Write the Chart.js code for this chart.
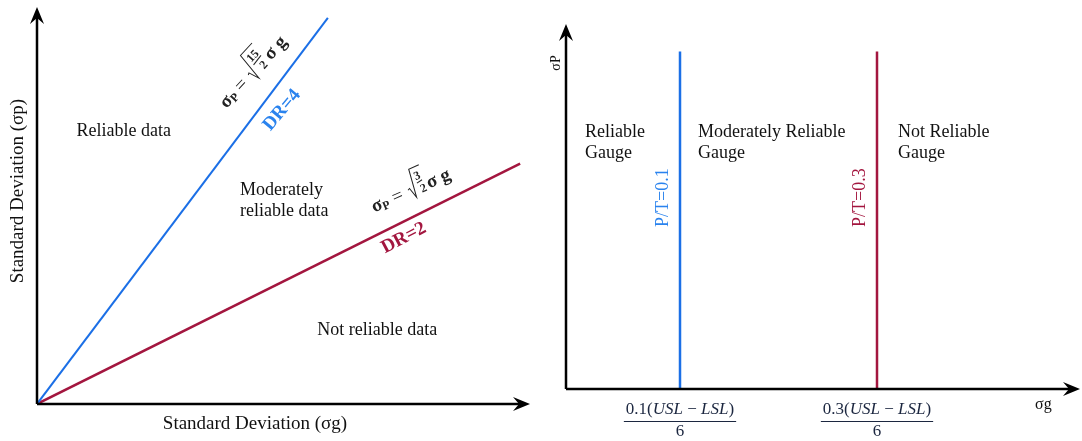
<!DOCTYPE html>
<html>
<head>
<meta charset="utf-8">
<script src="https://cdn.jsdelivr.net/npm/chart.js@4.4.0/dist/chart.umd.min.js"></script>
<style>
  body { margin: 0; background: #fff; }
  #wrap { position: relative; width: 1082px; height: 441px; }
  #left { position: absolute; left: 0; top: 0; }
  #right { position: absolute; left: 541px; top: 0; }
</style>
</head>
<body>
<div id="wrap">
  <canvas id="left" width="541" height="441"></canvas>
  <canvas id="right" width="541" height="441"></canvas>
</div>
<script>
// left panel: the two DR lines (axes 0..100 in both directions)
const dr4X = [0, 59];
const dr4Y = [0, 98];
const dr2X = [0, 98];
const dr2Y = [0, 61];
const leftRegions = ["Reliable data", "Moderately", "reliable data", "Not reliable data"];
const leftRegionX = [17.6, 41.2, 41.2, 69.0];
const leftRegionY = [69.3, 54.3, 48.9, 18.8];
const leftRegionAlign = ["center", "left", "left", "center"];

// right panel: P/T limits
const ptX = [22.8, 62.2];
const ptTop = 94;
const ptLabels = ["P/T=0.1", "P/T=0.3"];
const ptTickNum = ["0.1", "0.3"];
const ptTickDen = ["6", "6"];
const gaugeLines1 = ["Reliable", "Moderately Reliable", "Not Reliable"];
const gaugeLines2 = ["Gauge", "Gauge", "Gauge"];
const gaugeX = [3.8, 26.4, 66.4];
const gaugeY1 = 71.6;
const gaugeY2 = 65.7;

const BLUE = "#1b6fe6";
const BLUE_TXT = "#2a83ee";
const RED = "#a3163f";
const SERIF = '"Liberation Serif", "DejaVu Serif", serif';

function pts(xs, ys) {
    return xs.map((x, i) => ({x: x, y: ys[i]}));
}

function arrow(ctx, x1, y1, x2, y2) {
    ctx.save();
    ctx.strokeStyle = "#000";
    ctx.fillStyle = "#000";
    ctx.lineWidth = 2.5;
    const a = Math.atan2(y2 - y1, x2 - x1);
    const hl = 17, hw = 7;
    ctx.beginPath();
    ctx.moveTo(x1, y1);
    ctx.lineTo(x2 - Math.cos(a) * 6, y2 - Math.sin(a) * 6);
    ctx.stroke();
    ctx.beginPath();
    ctx.moveTo(x2, y2);
    ctx.lineTo(x2 - hl * Math.cos(a) - hw * Math.sin(a), y2 - hl * Math.sin(a) + hw * Math.cos(a));
    ctx.lineTo(x2 - 11 * Math.cos(a), y2 - 11 * Math.sin(a));
    ctx.lineTo(x2 - hl * Math.cos(a) + hw * Math.sin(a), y2 - hl * Math.sin(a) - hw * Math.cos(a));
    ctx.closePath();
    ctx.fill();
    ctx.restore();
}

// sigma_p = sqrt(num/den) sigma_g, drawn centred on (cx, cy) and rotated
function formula(ctx, cx, cy, ang, num, den) {
    const big = "bold 19px " + SERIF;
    const sub = "bold 12px " + SERIF;
    const reg = "19px " + SERIF;
    const fr = "bold 12px " + SERIF;
    ctx.save();
    ctx.translate(cx, cy);
    ctx.rotate(ang);
    ctx.fillStyle = "#222";
    ctx.strokeStyle = "#222";
    ctx.textBaseline = "alphabetic";
    ctx.textAlign = "left";
    ctx.font = big; const wS = ctx.measureText("\u03c3").width;
    ctx.font = sub; const wP = ctx.measureText("P").width;
    ctx.font = reg; const wE = ctx.measureText(" = ").width + 2;
    ctx.font = fr; const wF = Math.max(ctx.measureText(num).width, ctx.measureText(den).width) + 2;
    ctx.font = big; const wG = ctx.measureText("\u03c3 g").width;
    const total = wS + wP + wE + 10 + wF + 2 + wG;
    let x = -total / 2;
    const by = 7;
    ctx.font = big; ctx.fillText("\u03c3", x, by); x += wS;
    ctx.font = sub; ctx.fillText("P", x, by + 2); x += wP;
    ctx.font = reg; ctx.fillText(" = ", x, by); x += wE;
    ctx.lineWidth = 1;
    ctx.beginPath();
    ctx.moveTo(x, by - 7);
    ctx.lineTo(x + 2, by - 8);
    ctx.lineTo(x + 5, by + 3);
    ctx.lineTo(x + 9, by - 26);
    ctx.lineTo(x + 10 + wF + 2, by - 26);
    ctx.stroke();
    x += 10;
    ctx.font = fr;
    ctx.textAlign = "center";
    ctx.fillText(num, x + wF / 2, by - 13);
    ctx.fillText(den, x + wF / 2 + 1, by + 1);
    ctx.beginPath();
    ctx.moveTo(x + 1, by - 10);
    ctx.lineTo(x + wF - 1, by - 11);
    ctx.stroke();
    x += wF + 2;
    ctx.textAlign = "left";
    ctx.font = big; ctx.fillText("\u03c3 g", x, by);
    ctx.restore();
}

function rotText(ctx, txt, x, y, ang, font, color) {
    ctx.save();
    ctx.translate(x, y);
    ctx.rotate(ang);
    ctx.font = font;
    ctx.fillStyle = color;
    ctx.textAlign = "center";
    ctx.textBaseline = "middle";
    ctx.fillText(txt, 0, 0);
    ctx.restore();
}

// "0.1(USL − LSL)" over "6", upright number, italic letters
function tickFraction(ctx, px, top, num, den) {
    const parts = [[num + "(", false], ["USL", true], [" \u2212 ", false], ["LSL", true], [")", false]];
    const up = "17px " + SERIF, it = "italic 17px " + SERIF;
    ctx.save();
    ctx.fillStyle = "#1c2740";
    ctx.strokeStyle = "#1c2740";
    ctx.textBaseline = "middle";
    ctx.textAlign = "left";
    let w = 0;
    parts.forEach(p => { ctx.font = p[1] ? it : up; w += ctx.measureText(p[0]).width; });
    let x = px - w / 2;
    parts.forEach(p => {
        ctx.font = p[1] ? it : up;
        ctx.fillText(p[0], x, top + 21);
        x += ctx.measureText(p[0]).width;
    });
    ctx.lineWidth = 1.2;
    ctx.beginPath();
    ctx.moveTo(px - w / 2 - 2, top + 32.5);
    ctx.lineTo(px + w / 2 + 2, top + 32.5);
    ctx.stroke();
    ctx.font = "17px " + SERIF;
    ctx.textAlign = "center";
    ctx.fillText(den, px, top + 43);
    ctx.restore();
}

const leftDeco = {
    id: "leftDeco",
    afterDraw(chart) {
        const ctx = chart.ctx;
        const xs = chart.scales.x, ys = chart.scales.y;
        const a = chart.chartArea;
        arrow(ctx, a.left, a.bottom, a.left, a.top - 3);
        arrow(ctx, a.left, a.bottom, a.right, a.bottom);

        ctx.save();
        ctx.font = "18px " + SERIF;
        ctx.fillStyle = "#111";
        ctx.textBaseline = "middle";
        leftRegions.forEach((t, i) => {
            ctx.textAlign = leftRegionAlign[i];
            ctx.fillText(t, xs.getPixelForValue(leftRegionX[i]), ys.getPixelForValue(leftRegionY[i]));
        });
        ctx.textAlign = "center";
        ctx.font = "19px " + SERIF;
        ctx.fillText("Standard Deviation (\u03c3g)", 255, a.bottom + 20);
        ctx.restore();
        rotText(ctx, "Standard Deviation (\u03c3p)", 18, 191, -Math.PI / 2, "19px " + SERIF, "#111");

        const ang4 = Math.atan2(ys.getPixelForValue(dr4Y[1]) - ys.getPixelForValue(dr4Y[0]),
                                xs.getPixelForValue(dr4X[1]) - xs.getPixelForValue(dr4X[0]));
        const ang2 = Math.atan2(ys.getPixelForValue(dr2Y[1]) - ys.getPixelForValue(dr2Y[0]),
                                xs.getPixelForValue(dr2X[1]) - xs.getPixelForValue(dr2X[0]));
        formula(ctx, xs.getPixelForValue(43.6), ys.getPixelForValue(84.5), ang4 + 0.1, "15", "2");
        rotText(ctx, "DR=4", xs.getPixelForValue(49.7), ys.getPixelForValue(74.6), ang4 + 0.05, "bold 19px " + SERIF, BLUE_TXT);
        formula(ctx, xs.getPixelForValue(75.7), ys.getPixelForValue(54.5), ang2 + 0.05, "3", "2");
        rotText(ctx, "DR=2", xs.getPixelForValue(74.4), ys.getPixelForValue(42.1), ang2 - 0.02, "bold 19px " + SERIF, RED);
    }
};

const rightDeco = {
    id: "rightDeco",
    afterDraw(chart) {
        const ctx = chart.ctx;
        const xs = chart.scales.x, ys = chart.scales.y;
        const a = chart.chartArea;
        arrow(ctx, a.left, a.bottom, a.left, a.top - 6);
        arrow(ctx, a.left, a.bottom, a.right + 14, a.bottom);

        ctx.save();
        ctx.font = "18px " + SERIF;
        ctx.fillStyle = "#111";
        ctx.textAlign = "left";
        ctx.textBaseline = "middle";
        gaugeLines1.forEach((t, i) => {
            ctx.fillText(t, xs.getPixelForValue(gaugeX[i]), ys.getPixelForValue(gaugeY1));
            ctx.fillText(gaugeLines2[i], xs.getPixelForValue(gaugeX[i]), ys.getPixelForValue(gaugeY2));
        });
        ctx.font = "16px " + SERIF;
        ctx.fillText("\u03c3g", a.left + 469, a.bottom + 16);
        ctx.restore();
        rotText(ctx, "\u03c3P", a.left - 10, 63, -Math.PI / 2, "14px " + SERIF, "#111");

        const colors = [BLUE_TXT, RED];
        ptX.forEach((v, i) => {
            const px = xs.getPixelForValue(v);
            rotText(ctx, ptLabels[i], px - 17, ys.getPixelForValue(53.3), -Math.PI / 2, "18px " + SERIF, colors[i]);
            tickFraction(ctx, px, a.bottom, ptTickNum[i], ptTickDen[i]);
        });
    }
};

function hiddenScales() {
    return {
        x: {type: "linear", min: 0, max: 100, display: false},
        y: {type: "linear", min: 0, max: 100, display: false}
    };
}

new Chart(document.getElementById("left"), {
    type: "scatter",
    data: {
        datasets: [
            {data: pts(dr4X, dr4Y), showLine: true, borderColor: BLUE, borderWidth: 2, pointRadius: 0},
            {data: pts(dr2X, dr2Y), showLine: true, borderColor: RED, borderWidth: 2.5, pointRadius: 0}
        ]
    },
    options: {
        responsive: false,
        animation: false,
        layout: {padding: {left: 37, right: 11, top: 10, bottom: 37}},
        plugins: {legend: {display: false}, tooltip: {enabled: false}},
        scales: hiddenScales()
    },
    plugins: [leftDeco]
});

new Chart(document.getElementById("right"), {
    type: "scatter",
    data: {
        datasets: [
            {data: pts([ptX[0], ptX[0]], [0, ptTop]), showLine: true, borderColor: BLUE, borderWidth: 2.5, pointRadius: 0},
            {data: pts([ptX[1], ptX[1]], [0, ptTop]), showLine: true, borderColor: RED, borderWidth: 2.5, pointRadius: 0}
        ]
    },
    options: {
        responsive: false,
        animation: false,
        layout: {padding: {left: 25, right: 16, top: 30, bottom: 52}},
        plugins: {legend: {display: false}, tooltip: {enabled: false}},
        scales: hiddenScales()
    },
    plugins: [rightDeco]
});
</script>
</body>
</html>
